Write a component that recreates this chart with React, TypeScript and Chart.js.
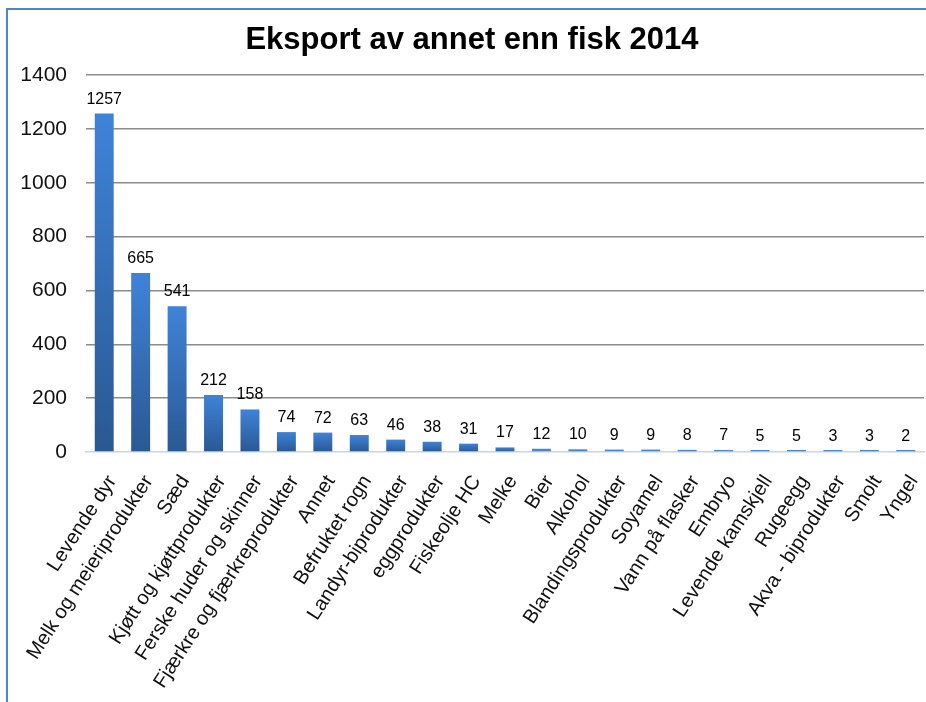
import React, { useEffect, useRef } from "react";
import { Chart, registerables } from "chart.js";

Chart.register(...registerables);

const TITLE = "Eksport av annet enn fisk 2014";

const categories: string[] = [
  "Levende dyr",
  "Melk og meieriprodukter",
  "Sæd",
  "Kjøtt og kjøttprodukter",
  "Ferske huder og skinner",
  "Fjærkre og fjærkreprodukter",
  "Annet",
  "Befruktet rogn",
  "Landyr-biprodukter",
  "eggprodukter",
  "Fiskeolje HC",
  "Melke",
  "Bier",
  "Alkohol",
  "Blandingsprodukter",
  "Soyamel",
  "Vann på flasker",
  "Embryo",
  "Levende kamskjell",
  "Rugeegg",
  "Akva - biprodukter",
  "Smolt",
  "Yngel",
];

const values: number[] = [
  1257, 665, 541, 212, 158, 74, 72, 63, 46, 38, 31, 17, 12, 10, 9, 9, 8, 7, 5, 5, 3, 3, 2,
];

const yTicks: number[] = [0, 200, 400, 600, 800, 1000, 1200, 1400];

const FONT = "Arial, 'Liberation Sans', sans-serif";

const titlePlugin = {
  id: "customTitle",
  afterDraw(chart: any) {
    const c = chart.ctx;
    c.save();
    c.font = `bold 31px ${FONT}`;
    c.fillStyle = "#000";
    c.textAlign = "center";
    c.textBaseline = "middle";
    c.fillText(TITLE, 472, 40);
    c.restore();
  },
};

const labelPlugin = {
  id: "valueLabels",
  afterDatasetsDraw(chart: any) {
    const c = chart.ctx;
    const meta = chart.getDatasetMeta(0);
    const ys = chart.scales.y;
    c.save();
    c.font = `16px ${FONT}`;
    c.fillStyle = "#000";
    c.textAlign = "center";
    c.textBaseline = "alphabetic";
    meta.data.forEach((bar: any, i: number) => {
      const top = ys.getPixelForValue(values[i]);
      c.fillText(String(values[i]), bar.x, top - 10);
    });
    c.restore();
  },
};

export default function App() {
  const ref = useRef<HTMLCanvasElement | null>(null);

  useEffect(() => {
    document.body.style.margin = "0";
    if (!ref.current) return;
    const chart = new Chart(ref.current, {
      type: "bar",
      data: {
        labels: categories,
        datasets: [
          {
            data: values,
            barPercentage: 0.52,
            categoryPercentage: 1,
            minBarLength: 2,
            backgroundColor: (ctx: any) => {
              const ch = ctx.chart;
              if (!ch.chartArea || ctx.type !== "data" || !ch.scales.y) return "#3f7fcf";
              const ys = ch.scales.y;
              const top = ys.getPixelForValue(ctx.raw as number);
              const base = ys.getPixelForValue(0);
              if (!isFinite(top) || !isFinite(base) || base - top < 4) return "#4a86d0";
              const g = ch.ctx.createLinearGradient(0, top, 0, base);
              g.addColorStop(0, "#3f83d9");
              g.addColorStop(1, "#2a5892");
              return g;
            },
            borderWidth: 0,
          },
        ],
      },
      options: {
        animation: false,
        responsive: false,
        maintainAspectRatio: false,
        layout: { padding: { top: 75, left: 0, right: 2, bottom: 0 } },
        plugins: {
          legend: { display: false },
          title: { display: false },
          tooltip: { enabled: false },
        },
        scales: {
          x: {
            grid: { display: false, drawTicks: false },
            border: { display: true, color: "#c5d5ec", width: 1.5 },
            ticks: {
              autoSkip: false,
              minRotation: 57,
              maxRotation: 57,
              padding: 19,
              labelOffset: 8,
              color: "#111",
              font: { size: 20, family: FONT },
            },
            afterFit: (s: any) => {
              s.height = 250;
              s.paddingLeft = 0;
              s.paddingRight = 0;
            },
          },
          y: {
            min: 0,
            max: 1400,
            afterBuildTicks: (s: any) => {
              s.ticks = yTicks.map((v) => ({ value: v }));
            },
            grid: {
              drawTicks: false,
              color: (ctx: any) => (ctx.tick && ctx.tick.value === 0 ? "rgba(0,0,0,0)" : "#8c8c8c"),
              lineWidth: 1.5,
            },
            border: { display: false },
            ticks: {
              padding: 19,
              color: "#111",
              font: { size: 21, family: FONT },
              callback: (v: any) => String(v),
            },
            afterFit: (s: any) => {
              s.width = 86;
              s.paddingTop = 0;
              s.paddingBottom = 0;
            },
          },
        },
      },
      plugins: [titlePlugin, labelPlugin],
    });
    return () => chart.destroy();
  }, []);

  return (
    <div style={{ position: "relative", width: 926, height: 702, overflow: "hidden", background: "#fff" }}>
      <div
        style={{
          position: "absolute",
          left: 6,
          top: 8,
          width: 940,
          height: 720,
          borderLeft: "2px solid #4f86c9",
          borderTop: "2px solid #4f86c9",
        }}
      />
      <canvas ref={ref} width={926} height={702} style={{ position: "absolute", left: 0, top: 0 }} />
    </div>
  );
}
